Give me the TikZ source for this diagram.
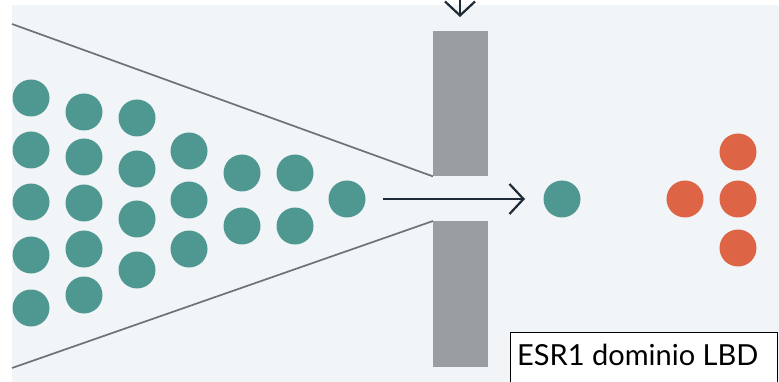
\documentclass[tikz,border=0pt]{standalone}
\usepackage{fontspec}
\setmainfont{Lato}
\usetikzlibrary{arrows.meta}
\definecolor{bgpanel}{HTML}{F2F5F7}
\definecolor{tealdot}{HTML}{4E9891}
\definecolor{orangedot}{HTML}{DD6444}
\definecolor{barfill}{HTML}{9A9EA1}
\definecolor{funnel}{HTML}{6E7275}
\definecolor{inkarrow}{HTML}{1E2A36}
\tikzset{
  dot/.style={circle, inner sep=0pt, minimum size=37pt},
  tdot/.style={dot, fill=tealdot},
  odot/.style={dot, fill=orangedot},
  bar/.style={fill=barfill, draw=none, inner sep=0pt, minimum width=55pt},
  funnelline/.style={draw=funnel, line width=1.7pt},
  flow/.style={draw=inkarrow, line width=2.2pt, -{Straight Barb[length=14pt,width=30pt,line width=2.2pt]}},
  labelbox/.style={draw=black, line width=1pt, fill=white, inner sep=0pt, anchor=north west},
  labeltext/.style={anchor=base west, inner sep=0pt, font=\fontsize{29}{31}\selectfont, text=black}
}
\begin{document}
\begin{tikzpicture}[x=1pt,y=-1pt]
% page and panel
\fill[white] (0,0) rectangle (779,382);
\useasboundingbox (0,0) rectangle (779,382);
\fill[bgpanel] (12,5) rectangle (779,382);

% slit bars
\node[bar, minimum height=145pt, anchor=north west] (topbar) at (433,31) {};
\node[bar, minimum height=146pt, anchor=north west] (botbar) at (433,221) {};

% funnel walls
\coordinate (ftop) at (12,24);
\coordinate (fbot) at (12,368);
\draw[funnelline] (ftop) -- (topbar.south west);
\draw[funnelline] (fbot) -- (botbar.north west);

% incoming particles
\foreach \y [count=\i] in {98,150,202,255,308} \node[tdot] (a\i) at (31,\y) {};
\foreach \y [count=\i] in {112,157,203,249,295} \node[tdot] (b\i) at (84,\y) {};
\foreach \y [count=\i] in {118,169,219,270} \node[tdot] (c\i) at (137,\y) {};
\foreach \y [count=\i] in {151,200,249} \node[tdot] (d\i) at (189,\y) {};
\foreach \y [count=\i] in {173,226} \node[tdot] (e\i) at (242,\y) {};
\foreach \y [count=\i] in {173,226} \node[tdot] (f\i) at (295,\y) {};
\node[tdot] (g1) at (347,199) {};

% passing particle and outgoing group
\node[tdot] (pass) at (562,199) {};
\node[odot] (o1) at (685,199) {};
\node[odot] (o2) at (738,152) {};
\node[odot] (o3) at (738,199) {};
\node[odot] (o4) at (738,248) {};

% arrows
\coordinate (hstart) at (383,199);
\coordinate (hend) at (525,199);
\draw[flow] (hstart) -- (hend);
\coordinate (vstart) at (460,0);
\coordinate (vend) at (460,17);
\draw[flow] (vstart) -- (vend);

% label
\node[labelbox, minimum width=267pt, minimum height=56pt] (lbl) at (510,332) {};
\node[labeltext] (lbltext) at (517,365) {ESR1 dominio LBD};
\end{tikzpicture}
\end{document}
